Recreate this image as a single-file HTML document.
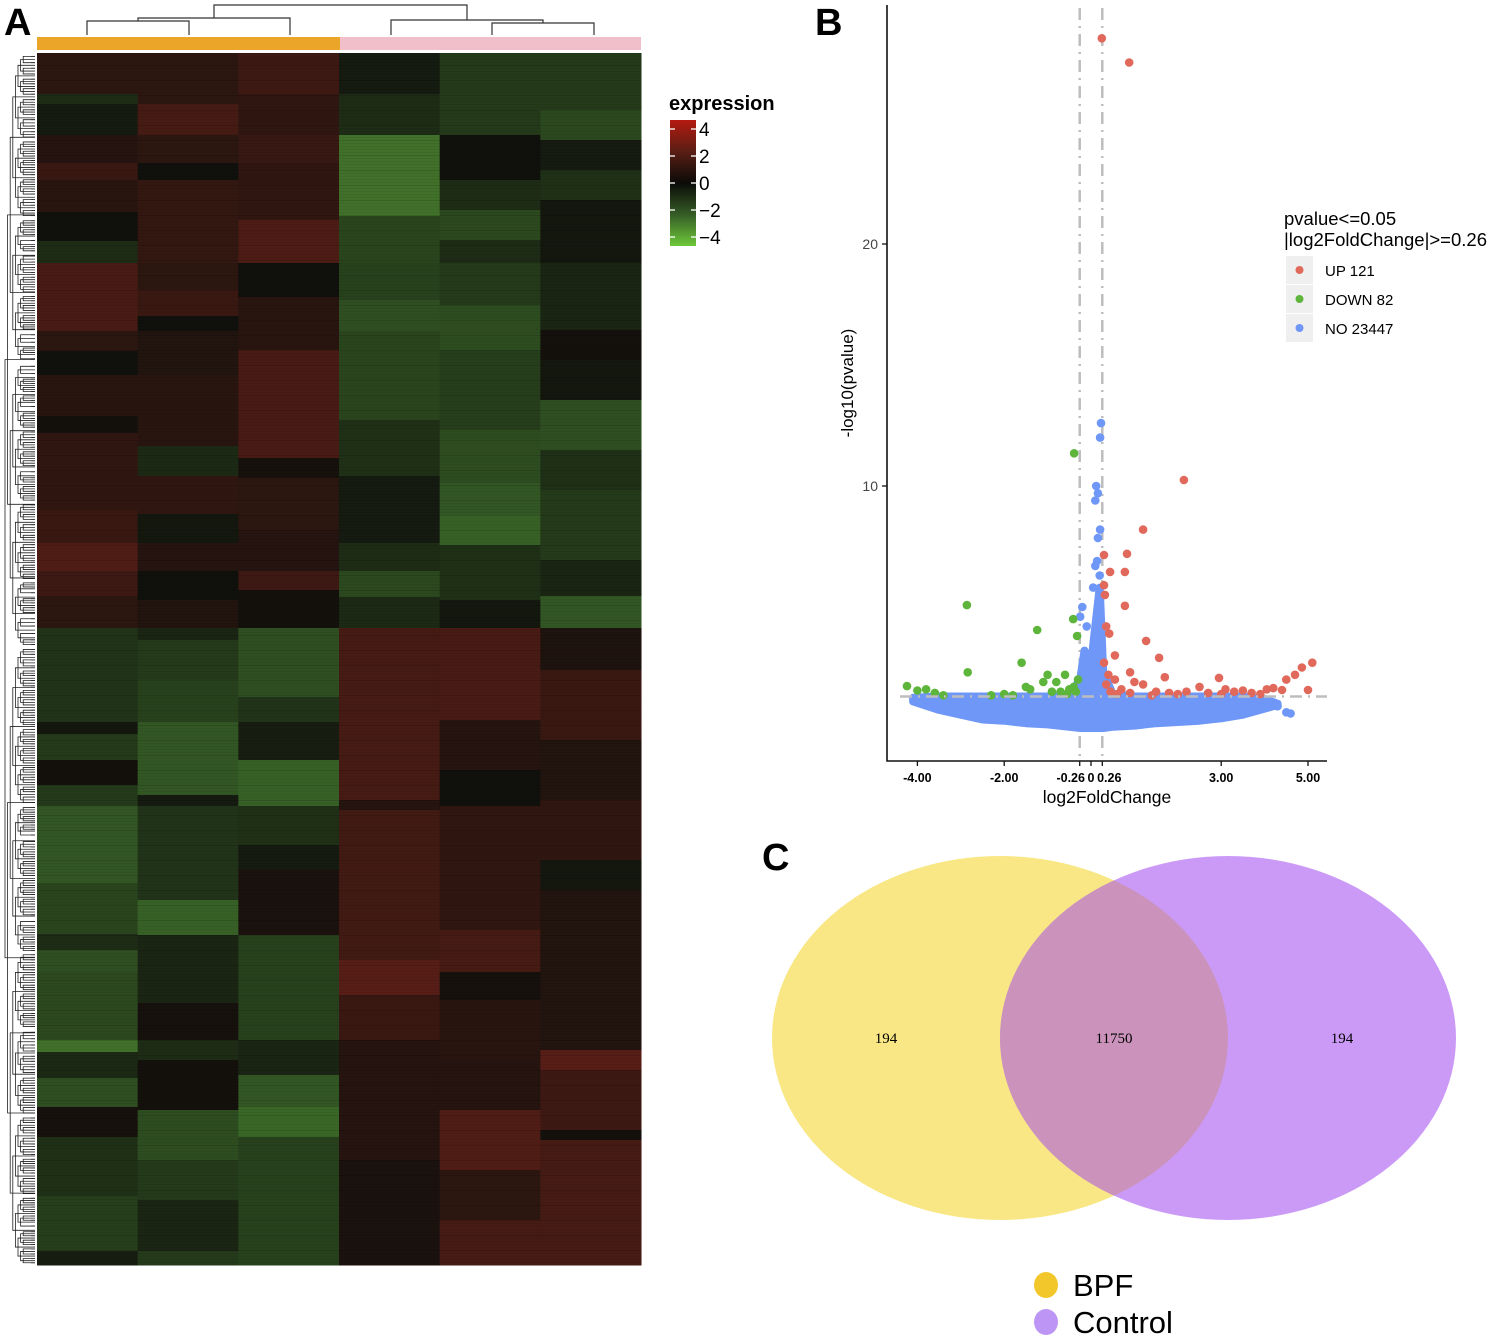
<!DOCTYPE html>
<html><head><meta charset="utf-8">
<style>
html,body{margin:0;padding:0;background:#fff;}
body{width:1500px;height:1337px;overflow:hidden;position:relative;font-family:"Liberation Sans",sans-serif;}
svg{position:absolute;left:0;top:0;}
</style></head>
<body>
<svg id="fig" width="1500" height="1337" viewBox="0 0 1500 1337" xmlns="http://www.w3.org/2000/svg">
  <text x="4" y="35" font-size="38" font-weight="bold" font-family="Liberation Sans, sans-serif">A</text>
  <text x="815" y="35" font-size="38" font-weight="bold" font-family="Liberation Sans, sans-serif">B</text>
  <text x="762" y="870" font-size="38" font-weight="bold" font-family="Liberation Sans, sans-serif">C</text>

  <g id="heatmap"></g>
  <g id="leftdendro" stroke="#222" stroke-width="0.8" fill="none"></g>
  <g stroke="#333" stroke-width="1.2" fill="none">
    <path d="M87 35V21H189V35"/><path d="M138 21V18H290V35"/>
    <path d="M214 18V5H467V20"/>
    <path d="M391 35V20H543V23"/><path d="M492 35V23H594V35"/>
  </g>
  <rect x="37" y="37" width="303" height="13" fill="#eba62a"/>
  <rect x="340" y="37" width="301" height="13" fill="#f0bfc9"/>

  <defs>
    <linearGradient id="cbar" x1="0" y1="0" x2="0" y2="1">
      <stop offset="0" stop-color="#b41a10"/>
      <stop offset="0.25" stop-color="#5a1e15"/>
      <stop offset="0.5" stop-color="#0b0b08"/>
      <stop offset="0.75" stop-color="#355c26"/>
      <stop offset="1" stop-color="#6ec83a"/>
    </linearGradient>
  </defs>
  <g>
    <text x="669" y="110" font-size="20" font-weight="bold" font-family="Liberation Sans, sans-serif">expression</text>
    <rect x="670" y="120" width="26" height="126" fill="url(#cbar)"/>
    <g id="cbticks"></g>
  </g>

  <g id="volcano"></g>

  <g>
    <ellipse cx="1000" cy="1038" rx="228" ry="182" fill="#f8e784"/>
    <ellipse cx="1228" cy="1038" rx="228" ry="182" fill="#cb9af7"/>
    <clipPath id="clipY"><ellipse cx="1000" cy="1038" rx="228" ry="182"/></clipPath>
    <ellipse cx="1228" cy="1038" rx="228" ry="182" fill="#cb93bb" clip-path="url(#clipY)"/>
    <text x="886" y="1043" font-size="15" text-anchor="middle" font-family="Liberation Serif, serif">194</text>
    <text x="1114" y="1043" font-size="15" text-anchor="middle" font-family="Liberation Serif, serif">11750</text>
    <text x="1342" y="1043" font-size="15" text-anchor="middle" font-family="Liberation Serif, serif">194</text>
    <ellipse cx="1046" cy="1285" rx="12" ry="13" fill="#f2c72b"/>
    <text x="1073" y="1296" font-size="31" font-family="Liberation Sans, sans-serif">BPF</text>
    <ellipse cx="1046" cy="1322" rx="12" ry="13" fill="#bd96f5"/>
    <text x="1073" y="1333" font-size="31" font-family="Liberation Sans, sans-serif">Control</text>
  </g>
</svg>
<script>
// ---------- Heatmap data (row index 0..1212 from top, value = z-score) ----------
const heatColumns = ["BPF-1","BPF-2","BPF-3","Control-1","Control-2","Control-3"];
const col1Ends = [41,51,82,110,127,159,188,210,278,298,322,363,380,420,457,490,518,543,575,669,681,707,732,753,830,881,897,919,987,999,1025,1054,1084,1143,1198,1212];
const col1Vals = [0.8,-0.8,-0.3,0.6,1.2,0.7,0,-0.8,1.6,0.8,0,0.7,0.1,0.9,0.9,1.2,1.8,1.3,0.8,-1.0,-0.2,-1.2,0.1,-1.2,-2.0,-1.5,-0.8,-1.8,-1.6,-2.5,-0.7,-1.8,0.2,-0.9,-1.3,-0.4];
const col2Ends = [51,82,110,127,210,237,263,278,322,393,423,461,490,518,547,575,587,627,669,742,753,847,882,950,987,1007,1057,1107,1147,1198,1212];
const col2Vals = [0.8,1.5,0.8,0,1.0,0.8,1.2,0,0.5,0.7,-0.7,0.9,-0.2,0.6,0,0.5,-0.6,-1.2,-1.4,-2.0,-0.3,-1.0,-2.2,-0.6,0.2,-0.8,0.1,-1.7,-1.2,-0.6,-1.2];
const col3Ends = [41,82,110,167,210,244,297,405,425,477,518,537,575,644,669,707,753,792,817,882,987,1022,1054,1084,1212];
const col3Vals = [1.3,0.9,1.1,0.9,1.7,0,0.7,1.6,0.2,0.8,0.6,1.3,0.1,-1.8,-1.0,-0.4,-2.2,-0.9,-0.3,0.3,-1.4,-0.6,-2.0,-2.3,-1.4];
const col4Ends = [41,82,163,210,247,278,367,423,490,518,544,575,747,757,907,942,987,1107,1212];
const col4Vals = [-0.3,-0.8,-2.5,-1.5,-1.4,-1.8,-1.5,-0.9,-0.3,-0.8,-1.6,-0.7,1.5,0.6,1.4,2.0,1.2,0.6,0.3];
const col5Ends = [82,127,157,187,210,252,297,377,430,462,492,547,575,667,717,753,877,919,947,1007,1057,1117,1167,1212];
const col5Vals = [-1.2,0,-0.8,-1.6,-0.8,-1.2,-1.7,-1.3,-1.7,-2.0,-2.2,-0.9,-0.2,1.6,0.6,0,0.9,1.5,0.2,0.7,0.6,1.8,0.8,1.5];
const col6Ends = [57,87,117,147,210,277,307,347,397,437,507,543,575,617,687,747,807,837,997,1017,1077,1087,1212];
const col6Vals = [-1.2,-1.6,-0.3,-0.9,-0.2,-0.6,0.1,-0.2,-1.8,-0.9,-1.2,-0.6,-2.0,0.4,1.2,0.5,0.9,-0.2,0.5,2.0,1.3,0.1,1.5];
const heatEnds = [col1Ends,col2Ends,col3Ends,col4Ends,col5Ends,col6Ends];
const heatVals = [col1Vals,col2Vals,col3Vals,col4Vals,col5Vals,col6Vals];

// ---------- Colour legend ticks ----------
const cbTickVals = [4,2,0,-2,-4];
const cbTickLabels = ["4","2","0","\u22122","\u22124"];

// ---------- Volcano data ----------
const upX = [0.25,0.88,2.14,1.2,0.83,0.3,0.78,0.44,0.3,0.32,0.78,0.35,0.42,1.27,0.55,1.57,0.3,0.9,0.4,1.7,0.55,1.0,1.2,0.35,2.95,3.1,2.5,2.2,1.5,1.8,0.7,0.9,2.7,3.3,3.5,3.7,3.9,4.05,4.2,4.4,4.5,4.7,4.86,5.1,5.0,3.0,2.0,1.4,0.6,0.45];
const upY = [28.5,27.5,10.25,8.2,7.2,7.15,6.45,6.45,5.9,5.5,5.05,4.2,3.9,3.6,3.0,2.9,2.7,2.3,2.2,2.1,2.0,1.9,1.8,1.8,2.07,1.6,1.7,1.5,1.5,1.45,1.6,1.45,1.45,1.5,1.55,1.45,1.4,1.6,1.65,1.57,2.0,2.2,2.5,2.7,1.57,1.4,1.4,1.35,1.4,1.5];
const downX = [-0.39,-2.86,-1.24,-2.84,-1.6,-0.41,-0.32,-4.24,-4.0,-3.8,-3.6,-3.4,-2.0,-1.5,-1.4,-1.0,-0.8,-0.6,-0.5,-0.9,-0.7,-0.4,-0.3,-1.1,-2.3,-1.8,-0.35,-0.55];
const downY = [11.35,5.08,4.05,2.3,2.7,4.5,3.8,1.73,1.55,1.6,1.45,1.35,1.4,1.7,1.6,2.2,1.9,2.2,1.6,1.5,1.5,1.7,2.0,1.9,1.35,1.35,1.5,1.4];
const noX = [0.23,0.21,0.12,0.16,0.1,0.21,0.16,0.14,0.1,0.2,-0.2,-0.25,0.05,-0.1,4.1,4.3,4.5,4.6,3.9,-4.0,-3.7];
const noY = [12.6,12.0,10.0,9.7,9.4,8.2,7.85,6.9,6.7,6.3,5.0,4.6,5.8,4.2,1.0,0.9,0.65,0.6,1.2,1.25,1.1];
const noEnvX   = [-4.1,-3.5,-3.0,-2.5,-2.0,-1.5,-1.0,-0.5,-0.25,-0.15,0.0,0.1,0.2,0.28,0.5,1.0,1.5,2.0,2.5,3.0,3.5,4.0,4.3];
const noEnvTop = [1.25,1.3,1.3,1.3,1.3,1.3,1.3,1.4,2.0,3.2,2.6,4.2,5.8,2.3,1.4,1.3,1.3,1.3,1.3,1.3,1.3,1.2,1.0];
const noEnvBot = [1.1,0.75,0.55,0.35,0.3,0.2,0.15,0.05,0.0,0.0,0.0,0.0,0.0,0.0,0.05,0.1,0.2,0.25,0.3,0.4,0.55,0.8,0.95];
const xTickVals = [-4,-2,-0.26,0,0.26,3,5];
const xTickLabels = ["-4.00","-2.00","-0.26","0","0.26","3.00","5.00"];
const yTickVals = [10,20];
const yTickLabels = ["10","20"];
const legendLabels = ["UP 121","DOWN 82","NO 23447"];
const legendColors = ["#e0695c","#5db53b","#6f97f7"];

const NS = "http://www.w3.org/2000/svg";
function mk(tag, attrs, parent){ const e=document.createElementNS(NS,tag); for(const k in attrs) e.setAttribute(k,attrs[k]); parent.appendChild(e); return e; }

// ---------- Heatmap ----------
const hm = document.getElementById('heatmap');
const hmX0 = 37, hmY0 = 53, colW = 100.67, rowScale = 1;
function colX(i){ return hmX0 + i*colW; }
function rowY(r){ return hmY0 + r*rowScale; }
const stops = [[-4,[104,190,56]],[-2,[50,86,36]],[0,[16,16,12]],[2,[86,30,22]],[4,[176,26,16]]];
function heatColor(v){
  v=Math.max(-4,Math.min(4,v));
  for(let i=0;i<stops.length-1;i++){
    const a=stops[i],b=stops[i+1];
    if(v>=a[0]&&v<=b[0]){ const t=(v-a[0])/(b[0]-a[0]);
      const c=a[1].map((x,j)=>Math.round(x+(b[1][j]-x)*t)); return `rgb(${c[0]},${c[1]},${c[2]})`; }
  }
  return '#000';
}
heatEnds.forEach((ends,ci)=>{
  let start=0;
  ends.forEach((end,si)=>{
    const r = mk('rect',{x:colX(ci).toFixed(2),y:rowY(start),width:(colW+0.5).toFixed(2),height:rowY(end)-rowY(start)+0.5,fill:heatColor(heatVals[ci][si])},hm);
    
    
    start=end;
  });
});
for(let y=hmY0;y<hmY0+1212;y+=3){
  mk('rect',{x:hmX0,y:y,width:604,height:1,fill:'#000',opacity:((y*7)%5===0)?0.12:0.04},hm);
}

// row dendrogram (decorative tree)
const ld = document.getElementById('leftdendro');
function tree(a,b,depth){
  const mid=(a+b)/2;
  if(b-a<8){ mk('path',{d:`M31 ${mid}H35`},ld); return mid; }
  const split = a + (b-a)*(0.45+((a*13+b*7)%10)/100);
  const x = 5 + Math.min(depth,10)*2.6;
  const m1=tree(a,split,depth+1), m2=tree(split,b,depth+1);
  mk('path',{d:`M35 ${m1}H${x}V${m2}H35`},ld);
  return (m1+m2)/2;
}
tree(53,1265,0);

// colour legend ticks
const cbt=document.getElementById('cbticks');
cbTickVals.forEach((v,i)=>{
  const y=183 - v*13.5;
  mk('line',{x1:670,x2:675,y1:y,y2:y,stroke:'#fff','stroke-width':1.3},cbt);
  mk('line',{x1:691,x2:696,y1:y,y2:y,stroke:'#fff','stroke-width':1.3},cbt);
  const t=mk('text',{x:699,y:y+7,'font-size':19,'font-family':'Liberation Sans, sans-serif'},cbt);
  t.textContent=cbTickLabels[i];
  
  
});

// ---------- Volcano ----------
const vg=document.getElementById('volcano');
function sx(v){ return 1091 + v*43.4; }
function sy(v){ return 728 - v*24.2; }
[-0.26,0.26].forEach(v=>{
  const l=mk('line',{x1:sx(v),x2:sx(v),y1:8,y2:760,stroke:'#bdbdbd','stroke-width':2.5,'stroke-dasharray':'12 6 2 6'},vg);
  
  
});
let pts=[];
noEnvX.forEach((x,i)=>pts.push(sx(x).toFixed(1)+','+sy(noEnvTop[i]).toFixed(1)));
for(let i=noEnvX.length-1;i>=0;i--) pts.push(sx(noEnvX[i]).toFixed(1)+','+sy(noEnvBot[i]).toFixed(1));
const env=mk('polygon',{points:pts.join(' '),fill:'#6f97f7',stroke:'#6f97f7','stroke-width':8,'stroke-linejoin':'round'},vg);


function dots(xs,ys,col,name){
  xs.forEach((x,i)=>{
    const c=mk('circle',{cx:sx(x).toFixed(1),cy:sy(ys[i]).toFixed(1),r:4.3,fill:col},vg);
    
    
  });
}
dots(noX,noY,'#6f97f7','no-point');
dots(downX,downY,'#5db53b','down-point');
dots(upX,upY,'#e0695c','up-point');
const hl=mk('line',{x1:900,x2:1327,y1:sy(1.3),y2:sy(1.3),stroke:'#bdbdbd','stroke-width':2.5,'stroke-dasharray':'12 6 2 6'},vg);


const ax=mk('path',{d:'M887 5V761H1327',stroke:'#111','stroke-width':1.6,fill:'none'},vg);


xTickVals.forEach((v,i)=>{
  mk('line',{x1:sx(v),x2:sx(v),y1:761,y2:766,stroke:'#111','stroke-width':1.3},vg);
  const t=mk('text',{x:sx(v)+(v===-0.26?-9:v===0.26?7:0),y:782,'font-size':12.5,'font-weight':'bold','text-anchor':'middle','font-family':'Liberation Sans, sans-serif'},vg);
  t.textContent=xTickLabels[i];
  
  
});
yTickVals.forEach((v,i)=>{
  mk('line',{x1:882,x2:887,y1:sy(v),y2:sy(v),stroke:'#111','stroke-width':1.3},vg);
  const t=mk('text',{x:878,y:sy(v)+5,'font-size':14,fill:'#444','text-anchor':'end','font-family':'Liberation Sans, sans-serif'},vg);
  t.textContent=yTickLabels[i];
  
  
});
const xt=mk('text',{x:1107,y:803,'font-size':17.5,'text-anchor':'middle','font-family':'Liberation Sans, sans-serif'},vg);
xt.textContent='log2FoldChange';


const yt=mk('text',{x:0,y:0,'font-size':17,'text-anchor':'middle','font-family':'Liberation Sans, sans-serif',transform:'translate(853,383) rotate(-90)'},vg);
yt.textContent='-log10(pvalue)';


const lt1=mk('text',{x:1284,y:225,'font-size':18.5,'font-family':'Liberation Sans, sans-serif'},vg);
lt1.textContent='pvalue<=0.05';


const lt2=mk('text',{x:1284,y:246,'font-size':18.5,'font-family':'Liberation Sans, sans-serif'},vg);
lt2.textContent='|log2FoldChange|>=0.26';


legendLabels.forEach((lab,i)=>{
  const y=256+i*29;
  mk('rect',{x:1286,y:y,width:27,height:28,fill:'#efefef'},vg);
  const c=mk('circle',{cx:1299.5,cy:y+14,r:4,fill:legendColors[i]},vg);
  
  
  const t=mk('text',{x:1325,y:y+20,'font-size':15,'font-family':'Liberation Sans, sans-serif'},vg);
  t.textContent=lab;
  
  
});
</script>
</body></html>
